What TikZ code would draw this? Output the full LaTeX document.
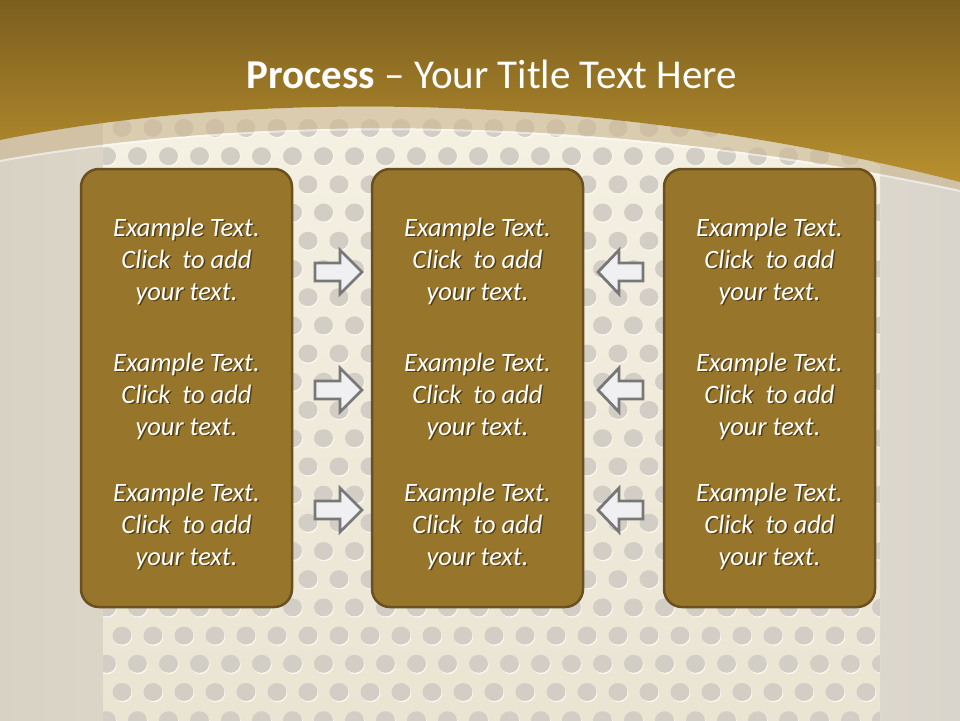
\documentclass[tikz,border=0pt]{standalone}
\usepackage{fontspec}
\setmainfont{Carlito}
\definecolor{bgL}{HTML}{D8D2C5}
\definecolor{bgM}{HTML}{E8E2D2}
\definecolor{bgR}{HTML}{DAD5CC}
\definecolor{panT}{HTML}{F5F1E3}
\definecolor{panB}{HTML}{EAE4D3}
\definecolor{dotc}{HTML}{D3CEC5}
\definecolor{dothl}{HTML}{FBF8EF}
\definecolor{bandc}{HTML}{CDB994}
\definecolor{hdrT}{HTML}{7C5E1F}
\definecolor{hdrB}{HTML}{B8902E}
\definecolor{boxfill}{HTML}{97752A}
\definecolor{boxline}{HTML}{6A5020}
\definecolor{arrfill}{HTML}{F0F0F3}
\definecolor{arrline}{HTML}{787878}
\tikzset{
  panelbox/.style={draw=boxline, line width=2.5pt, fill=boxfill, rounded corners=18pt, minimum width=211pt, minimum height=438pt, inner sep=0pt},
  boxtext/.style={align=center, font=\itshape\fontsize{26.5}{32}\selectfont, text=white, inner sep=0pt},
  shadowtext/.style={boxtext, text=black, opacity=0.45},
  arr/.style={fill=arrfill, draw=arrline, line width=2.8pt, line join=miter},
  dot/.style={fill=dotc},
  dothigh/.style={fill=dothl}
}
\begin{document}
\begin{tikzpicture}[x=1pt,y=-1pt]
\useasboundingbox (0,0) rectangle (960,720);
% background
\shade[left color=bgL, right color=bgR, middle color=bgM] (0,0) rectangle (960,720);
\shade[top color=panT, bottom color=panB] (103,100) rectangle (880,720);
% perforation
\begin{scope}
\clip (103,100) rectangle (880,720);
\foreach \i in {0,...,21}{
  \pgfmathsetmacro{\yy}{128+28.2*\i}
  \pgfmathsetmacro{\xo}{29-15.5*mod(\i,2)}
  \foreach \k in {2,...,28}{
    \fill[dothigh] (\xo+31*\k+0.8,\yy+1.3) ellipse [x radius=9.5, y radius=9];
    \fill[dot] (\xo+31*\k,\yy) ellipse [x radius=9.5, y radius=9];
  }
}
\end{scope}
% band under header
\fill[bandc, opacity=0.65] (0,140) .. controls (250,90) and (600,90) .. (960,182) -- (960,190) .. controls (600,112) and (250,115) .. (0,160) -- cycle;
\draw[white, opacity=0.5, line width=2pt] (0,161) .. controls (250,116) and (600,113) .. (960,191);
% header
\shade[top color=hdrT, bottom color=hdrB] (0,0) -- (960,0) -- (960,182) .. controls (600,90) and (250,90) .. (0,140) -- cycle;
\node[anchor=base, text=white, font=\fontsize{41}{45}\selectfont, inner sep=0pt] (title) at (492,88) {\textbf{Process} – Your Title Text Here};
% boxes
\node[panelbox] (b1) at (186.5,388) {};
\node[panelbox] (b2) at (477.5,388) {};
\node[panelbox] (b3) at (769.5,388) {};
% texts
\foreach \bx/\nm in {186.5/a, 477.5/b, 769.5/c}{
  \foreach \ry/\r in {261/1, 396/2, 526/3}{
    \node[shadowtext] (sh\nm\r) at (\bx+1.6,\ry+1.8) {Example Text.\\Click~ to add\\your text.};
    \node[boxtext] (t\nm\r) at (\bx,\ry) {Example Text.\\Click~ to add\\your text.};
  }
}
% arrows
\foreach \ry/\r in {272/1, 390/2, 510/3}{
  \coordinate (ra\r) at (315,\ry);
  \draw[arr] (ra\r) ++(0,-9) -- ++(25,0) -- ++(0,-13) -- ++(22,22) -- ++(-22,22) -- ++(0,-13) -- ++(-25,0) -- cycle;
  \coordinate (la\r) at (643,\ry);
  \draw[arr] (la\r) ++(0,-9) -- ++(-24,0) -- ++(0,-13) -- ++(-21,22) -- ++(21,22) -- ++(0,-13) -- ++(24,0) -- cycle;
}
\end{tikzpicture}
\end{document}
